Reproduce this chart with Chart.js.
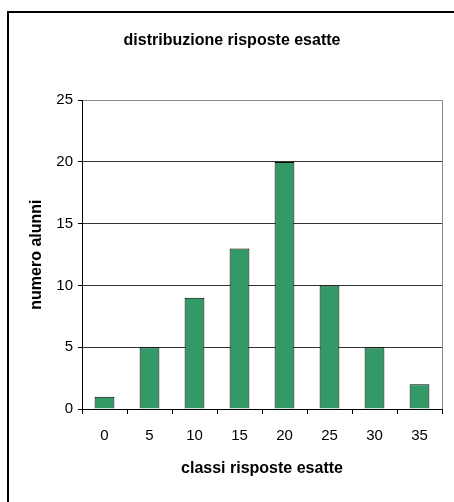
<!DOCTYPE html>
<html>
<head>
<meta charset="utf-8">
<script src="https://cdn.jsdelivr.net/npm/chart.js@4"></script>
<style>
  html, body { margin: 0; padding: 0; background: #fff; }
  #wrap { width: 454px; height: 502px; }
</style>
</head>
<body>
<div id="wrap"><canvas id="distChart" width="454" height="502"></canvas></div>
<script>
const classi = ['0', '5', '10', '15', '20', '25', '30', '35'];
const alunni = [1, 5, 9, 13, 20, 10, 5, 2];
const yTicks = [0, 5, 10, 15, 20, 25];

// outer frame of the chart box and the grey right edge of the plot area
const frame = {
  id: 'frame',
  beforeDraw(chart) {
    const c = chart.ctx;
    c.save();
    c.fillStyle = '#fff';
    c.fillRect(0, 0, chart.width, chart.height);
    c.restore();
  },
  afterDraw(chart) {
    const c = chart.ctx;
    const a = chart.chartArea;
    c.save();
    c.strokeStyle = '#000';
    c.lineWidth = 2;
    c.strokeRect(8, 12, 470, 520);
    c.strokeStyle = '#888';
    c.lineWidth = 1;
    c.beginPath();
    c.moveTo(Math.round(a.right) + 0.5, a.top);
    c.lineTo(Math.round(a.right) + 0.5, a.bottom);
    c.stroke();
    c.restore();
  }
};

Chart.defaults.font.family = '"Liberation Sans", Arial, sans-serif';
Chart.defaults.color = '#000';

new Chart(document.getElementById('distChart').getContext('2d'), {
  type: 'bar',
  data: {
    labels: classi,
    datasets: [{
      data: alunni,
      backgroundColor: '#339966',
      borderColor: '#000',
      borderWidth: 1,
      categoryPercentage: 1,
      barPercentage: 0.44
    }]
  },
  options: {
    responsive: false,
    animation: false,
    layout: { padding: { left: 22, right: 12, top: 0, bottom: 0 } },
    plugins: {
      legend: { display: false },
      tooltip: { enabled: false },
      title: {
        display: true,
        text: 'distribuzione risposte esatte',
        font: { size: 16, weight: 'bold' },
        color: '#000',
        padding: { top: 31, bottom: 50 }
      }
    },
    scales: {
      y: {
        min: 0,
        max: 25,
        afterFit(scale) { scale.width = 60; },
        afterBuildTicks(scale) { scale.ticks = yTicks.map(v => ({ value: v })); },
        ticks: { font: { size: 15 }, padding: 5 },
        grid: {
          color: ctx => ctx.tick && ctx.tick.value === 25 ? '#888' : '#333',
          tickColor: '#000',
          tickLength: 4
        },
        border: { color: '#000' },
        title: {
          display: true,
          text: 'numero alunni',
          font: { size: 16, weight: 'bold' },
          padding: { top: 5, bottom: 0 }
        }
      },
      x: {
        afterFit(scale) { scale.height = 93; },
        ticks: { font: { size: 15 }, padding: 13 },
        grid: {
          offset: true,
          drawOnChartArea: false,
          tickColor: '#000',
          tickLength: 5
        },
        border: { color: '#000' },
        title: {
          display: true,
          text: 'classi risposte esatte',
          font: { size: 16, weight: 'bold' },
          padding: { top: 0, bottom: 24 }
        }
      }
    }
  },
  plugins: [frame]
});
</script>
</body>
</html>
